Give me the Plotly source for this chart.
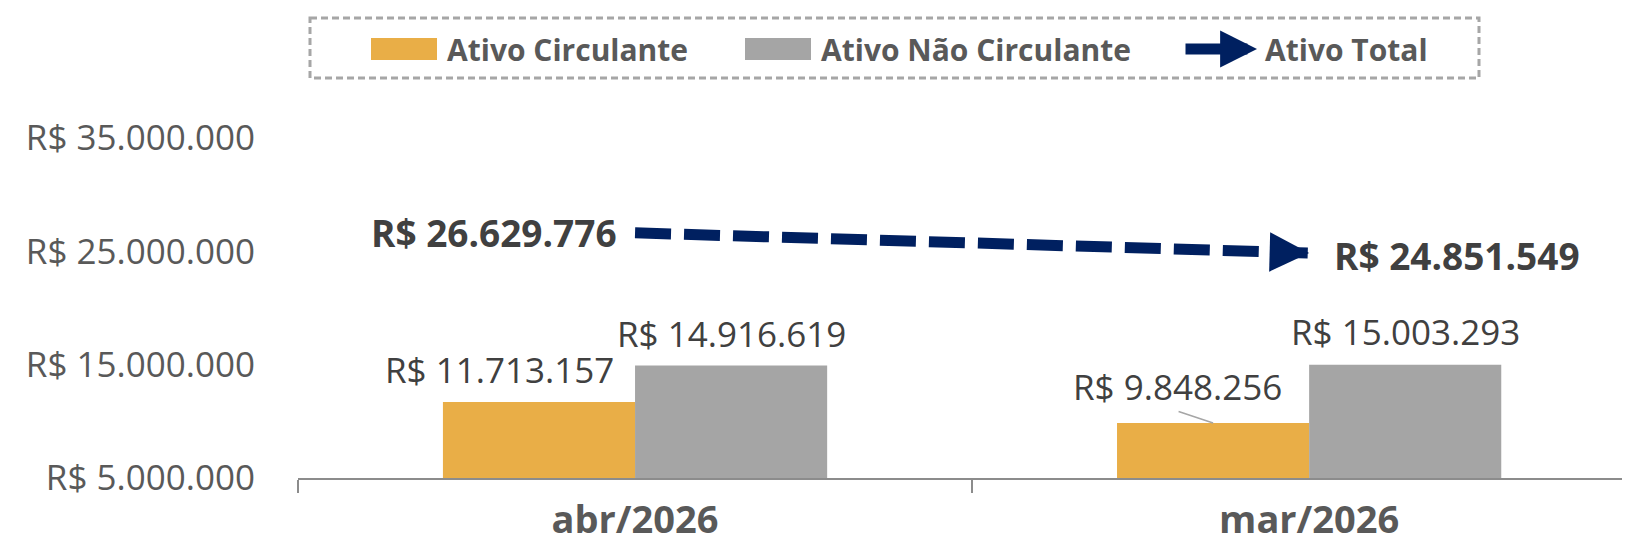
import plotly.graph_objects as go

# ---------------- data ----------------
categories = ["abr/2026", "mar/2026"]
ativo_circulante = [11713157, 9848256]
ativo_nao_circulante = [14916619, 15003293]
ativo_total = [26629776, 24851549]
series_names = ["Ativo Circulante", "Ativo Não Circulante", "Ativo Total"]
y_tick_values = [5000000, 15000000, 25000000, 35000000]

# ---------------- style ----------------
ORANGE = "#E9AE47"
GRAY = "#A5A5A5"
NAVY = "#002060"
TXT = "#404040"
TXT2 = "#595959"
FONT = "Open Sans"

OFF = 8  # page body margin
W, H = 1630 - OFF, 547 - OFF
ML, MT = 298 - OFF, 138 - OFF
MR = 0
MB = H - (478 - OFF)
PW, PH = W - ML - MR, H - MT - MB
BARGAP = 0.43
BW = (1 - BARGAP) / 2


def brl(v):
    return "R$ " + f"{v:,}".replace(",", ".")


def px(x):
    return (x - OFF - ML) / PW


def py(y):
    return 1 - (y - OFF - MT) / PH


x_idx = list(range(len(categories)))

fig = go.Figure()
fig.add_bar(x=x_idx, y=ativo_circulante, name=series_names[0],
            marker=dict(color=ORANGE, line=dict(width=0)), showlegend=False)
fig.add_bar(x=x_idx, y=ativo_nao_circulante, name=series_names[1],
            marker=dict(color=GRAY, line=dict(width=0)), showlegend=False)
fig.add_scatter(x=x_idx, y=ativo_total, name=series_names[2], mode="lines",
                line=dict(color=NAVY, width=11, dash="36px,13px", backoff=38),
                showlegend=False)

ann = []
# arrow head at the end of total line
ann.append(dict(x=x_idx[-1], y=ativo_total[-1], xref="x", yref="y", text="",
                showarrow=True, arrowhead=2, arrowwidth=5, arrowsize=1.58,
                arrowcolor=NAVY, ax=-39, ay=-1, standoff=0))

# bar labels
lab_font = dict(family=FONT, size=35, color=TXT)
shifts_c = [(-39, 32), (-36, 37)]
shifts_n = [(0, 32), (0, 33)]
for i in x_idx:
    xc = i - BW / 2
    xn = i + BW / 2
    ann.append(dict(x=xc, y=ativo_circulante[i], xref="x", yref="y",
                    text=brl(ativo_circulante[i]), showarrow=False,
                    xshift=shifts_c[i][0], yshift=shifts_c[i][1],
                    xanchor="center", yanchor="middle", font=lab_font))
    ann.append(dict(x=xn, y=ativo_nao_circulante[i], xref="x", yref="y",
                    text=brl(ativo_nao_circulante[i]), showarrow=False,
                    xshift=shifts_n[i][0], yshift=shifts_n[i][1],
                    xanchor="center", yanchor="middle", font=lab_font))

# leader line for second orange label
ann.append(dict(x=1 - BW / 2, y=ativo_circulante[1], xref="x", yref="y", text="",
                showarrow=True, arrowhead=0, arrowwidth=1.5, arrowcolor="#A6A6A6",
                ax=-36, ay=-12, standoff=0))

# total labels
tot_font = dict(family=FONT, size=37, color=TXT)
ann.append(dict(x=0, y=ativo_total[0], xref="x", yref="y", text="<b>" + brl(ativo_total[0]) + "</b>",
                showarrow=False, xanchor="right", yanchor="middle", xshift=-16, yshift=0,
                font=tot_font))
ann.append(dict(x=1, y=ativo_total[1], xref="x", yref="y", text="<b>" + brl(ativo_total[1]) + "</b>",
                showarrow=False, xanchor="left", yanchor="middle", xshift=23, yshift=-2,
                font=tot_font))

# ---------------- custom legend ----------------
leg_font = dict(family=FONT, size=30, color=TXT2)
shapes = [
    dict(type="rect", xref="paper", yref="paper", x0=px(310), x1=px(1479), y0=py(18), y1=py(78),
         line=dict(color="#A6A6A6", width=3, dash="7px,4px"), fillcolor="rgba(0,0,0,0)"),
    dict(type="rect", xref="paper", yref="paper", x0=px(371), x1=px(437), y0=py(38), y1=py(60),
         line=dict(width=0), fillcolor=ORANGE),
    dict(type="rect", xref="paper", yref="paper", x0=px(745), x1=px(811), y0=py(38), y1=py(60),
         line=dict(width=0), fillcolor=GRAY),
]
ann.append(dict(x=px(1257), y=py(49), xref="paper", yref="paper", text="", showarrow=True,
                arrowhead=2, arrowwidth=11, arrowsize=0.67, arrowcolor=NAVY, ax=-73, ay=0, standoff=0))
for xl, name in zip([445, 819, 1263], series_names):
    ann.append(dict(x=px(xl), y=py(49), xref="paper", yref="paper", text="<b>" + name + "</b>",
                    showarrow=False, xanchor="left", yanchor="middle", font=leg_font))

fig.update_layout(
    width=W, height=H,
    margin=dict(l=ML, r=MR, t=MT, b=MB, pad=0, autoexpand=False),
    paper_bgcolor="white", plot_bgcolor="white",
    barmode="group", bargap=BARGAP, bargroupgap=0,
    showlegend=False,
    font=dict(family=FONT, color=TXT2),
    annotations=ann, shapes=shapes,
)
fig.update_xaxes(
    automargin=False,
    range=[-0.5, 1.476], tickmode="array", tickvals=x_idx, ticktext=["<b>" + c + "</b>" for c in categories],
    tickfont=dict(family=FONT, size=38, color=TXT2),
    ticks="outside", ticklen=7, tickcolor="rgba(0,0,0,0)",
    showline=True, linecolor="#8C8C8C", linewidth=2, showgrid=False, zeroline=False,
    minor=dict(tickmode="array", tickvals=[-0.5, 0.5, 1.5], ticks="outside", ticklen=13,
               tickcolor="#8C8C8C", tickwidth=2, showgrid=False),
)
fig.update_yaxes(
    automargin=False,
    range=[5000000, 35000000], tickmode="array", tickvals=y_tick_values,
    ticktext=[brl(v) for v in y_tick_values],
    tickfont=dict(family=FONT, size=35, color=TXT2),
    ticks="outside", ticklen=35, tickcolor="rgba(0,0,0,0)",
    showline=False, showgrid=False, zeroline=False,
)

fig.write_html("out.html")
